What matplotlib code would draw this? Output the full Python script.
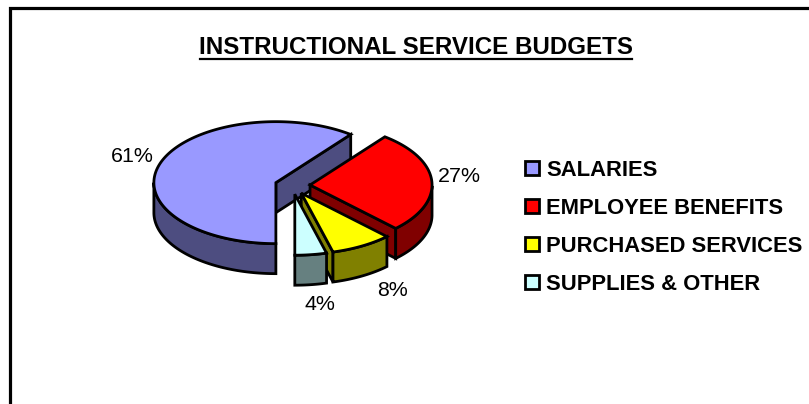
import numpy as np
import matplotlib
matplotlib.use('Agg')
import matplotlib.pyplot as plt
from matplotlib.patches import Polygon, Rectangle

plt.rcParams['font.family'] = ['Liberation Sans', 'DejaVu Sans']

title = 'INSTRUCTIONAL SERVICE BUDGETS'
categories = ['SALARIES', 'EMPLOYEE BENEFITS', 'PURCHASED SERVICES', 'SUPPLIES & OTHER']
values = [60.51, 27.1, 8.2, 4.19]
top_colors = ['#9999FF', '#FF0000', '#FFFF00', '#CCFFFF']
side_colors = ['#4D4D80', '#800000', '#808000', '#668080']

# pie geometry in pixels
cx, cy = 292.5, 185.5
rx, ry = 122, 61
depth = 30
explode = 0.144
lw = 2.0

fig = plt.figure(figsize=(8.09, 4.04), dpi=100)
ax = fig.add_axes([0, 0, 1, 1])
ax.set_xlim(0, 809)
ax.set_ylim(404, 0)
ax.axis('off')

# frame, only top and left show in the crop
ax.plot([10.5, 10.5, 812], [408, 7.5, 7.5], color='black', lw=2.3, solid_joinstyle='miter')


def pt(vx, vy, t):
    return vx + rx * np.cos(np.radians(t)), vy - ry * np.sin(np.radians(t))


def draw_slice(t1, t2, color, side):
    mid = np.radians((t1 + t2) / 2)
    vx = cx + explode * rx * np.cos(mid)
    vy = cy - explode * ry * np.sin(mid)
    ts = np.arange(t1, t2, -1.0)
    ts = np.append(ts, t2)
    arc = np.array([pt(vx, vy, t) for t in ts])

    # radial walls facing the viewer
    for t, show in ((t1, np.cos(np.radians(t1)) < -1e-6), (t2, np.cos(np.radians(t2)) > 1e-6)):
        if show:
            ex, ey = pt(vx, vy, t)
            ax.add_patch(Polygon([(vx, vy), (ex, ey), (ex, ey + depth), (vx, vy + depth)],
                                 fc=side, ec='black', lw=lw, joinstyle='miter'))

    # outer wall, front part of the rim only
    front = arc[np.sin(np.radians(ts)) <= 1e-6]
    if len(front) > 1:
        low = front[::-1] + [0, depth]
        ax.add_patch(Polygon(np.vstack([front, low]), fc=side, ec='black', lw=lw, joinstyle='miter'))

    ax.add_patch(Polygon(np.vstack([[(vx, vy)], arc]), fc=color, ec='black', lw=lw, joinstyle='miter'))


# start at the bottom and go clockwise
edges = 270 - np.cumsum([0] + values) * 3.6
for i in [0, 1, 2, 3]:
    draw_slice(edges[i], edges[i + 1], top_colors[i], side_colors[i])

# percent labels
label_pos = [(132, 156), (459, 176), (393, 291), (320, 304)]
for v, (x, y) in zip(values, label_pos):
    ax.text(x, y, f'{v:.0f}%', ha='center', va='center', fontsize=15.4, color='black')

# title with underline
ax.text(416, 54, title, ha='center', va='baseline', fontsize=17.4, fontweight='bold', color='black')
ax.plot([200, 632], [58.5, 58.5], color='black', lw=1.6)

# legend
legend_y = [167.5, 205.5, 243.5, 282]
for name, col, y in zip(categories, top_colors, legend_y):
    ax.add_patch(Rectangle((525.5, y - 7), 14, 14, fc=col, ec='black', lw=2.0))
    ax.text(546, y + 8.5, name, ha='left', va='baseline', fontsize=15.8, fontweight='bold', color='black')

fig.savefig('out.png', dpi=100, facecolor='white')
